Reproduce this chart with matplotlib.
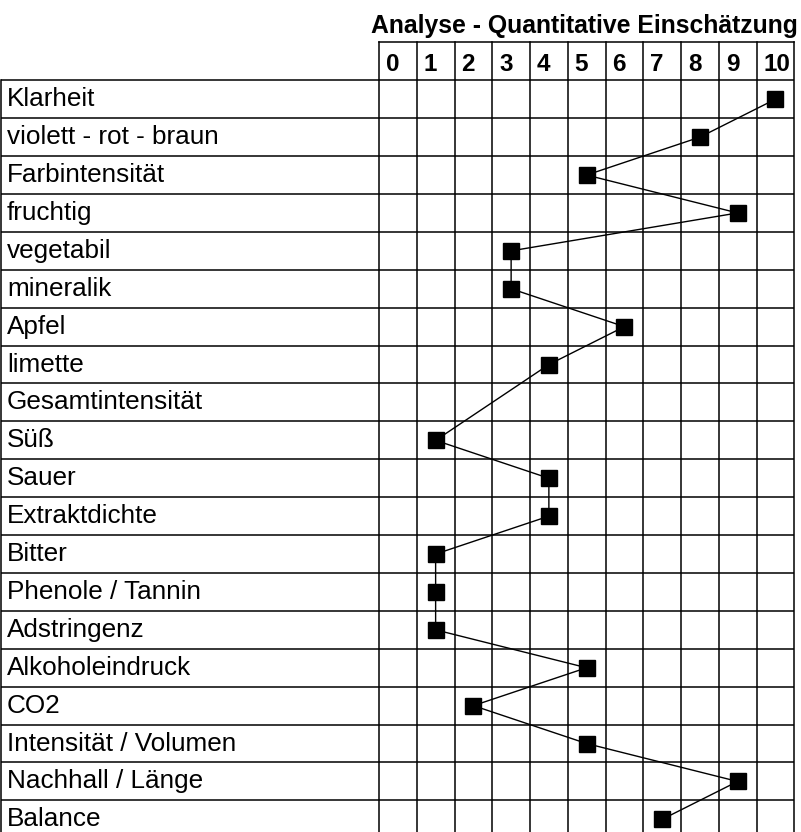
import matplotlib.pyplot as plt

# Werte aus der Tabelle (None = kein Eintrag)
labels = ['Klarheit', 'violett - rot - braun', 'Farbintensität', 'fruchtig',
          'vegetabil', 'mineralik', 'Apfel', 'limette', 'Gesamtintensität',
          'Süß', 'Sauer', 'Extraktdichte', 'Bitter', 'Phenole / Tannin',
          'Adstringenz', 'Alkoholeindruck', 'CO2', 'Intensität / Volumen',
          'Nachhall / Länge', 'Balance']
scores = [10, 8, 5, 9, 3, 3, 6, 4, None, 1, 4, 4, 1, 1, 1, 5, 2, 5, 9, 7]
scale = list(range(11))
title = 'Analyse - Quantitative Einschätzung'

# Geometrie in Pixeln
W, H = 801, 832
X0, CW = 379.0, 37.75      # linker Rand Raster, Spaltenbreite
Y0, RH = 80.3, 37.9        # Oberkante erste Zeile, Zeilenhöhe
HDR_TOP = 42.3

plt.rcParams['font.family'] = ['Liberation Sans', 'DejaVu Sans']

fig = plt.figure(figsize=(W / 100, H / 100), dpi=100)
ax = fig.add_axes([0, 0, 1, 1])
ax.set_xlim(-0.5 - X0 / CW, -0.5 + (W - X0) / CW)
ax.set_ylim(-0.5 + (H - Y0) / RH, -0.5 - Y0 / RH)
ax.axis('off')


def px_x(p):
    return -0.5 + (p - X0) / CW


def px_y(p):
    return -0.5 + (p - Y0) / RH


n = len(labels)
right = scale[-1] + 0.5
left_lbl = px_x(1.0)
hdr_top = px_y(HDR_TOP)
lw = 1.1

# horizontale Linien
for k in range(n + 1):
    ax.plot([left_lbl, right], [k - 0.5, k - 0.5], color='black', lw=lw, solid_capstyle='butt')
ax.plot([-0.5, right], [hdr_top, hdr_top], color='black', lw=lw)
# vertikale Linien
for k in range(len(scale) + 1):
    ax.plot([k - 0.5, k - 0.5], [hdr_top, n - 0.5], color='black', lw=lw)
ax.plot([left_lbl, left_lbl], [-0.5, n - 0.5], color='black', lw=lw)

# Kopfzeile
for v in scale:
    ax.text(v - 0.5 + 7 / CW, hdr_top + 28.7 / RH, str(v), fontsize=17.5,
            fontweight='bold', ha='left', va='baseline')
ax.text(px_x(584.5), px_y(33), title, fontsize=17.8, fontweight='bold',
        ha='center', va='baseline')

# Zeilenbeschriftungen
for i, lab in enumerate(labels):
    ax.text(px_x(7), i - 0.5 + 26 / RH, lab, fontsize=18.8, ha='left', va='baseline')

# Profil-Linie
pts = [(s, i) for i, s in enumerate(scores) if s is not None]
xs = [p[0] for p in pts]
ys = [p[1] for p in pts]
ax.plot(xs, ys, color='black', lw=1.0, marker='s', markersize=12,
        markerfacecolor='black', markeredgecolor='black')

fig.savefig('out.png', dpi=100)
